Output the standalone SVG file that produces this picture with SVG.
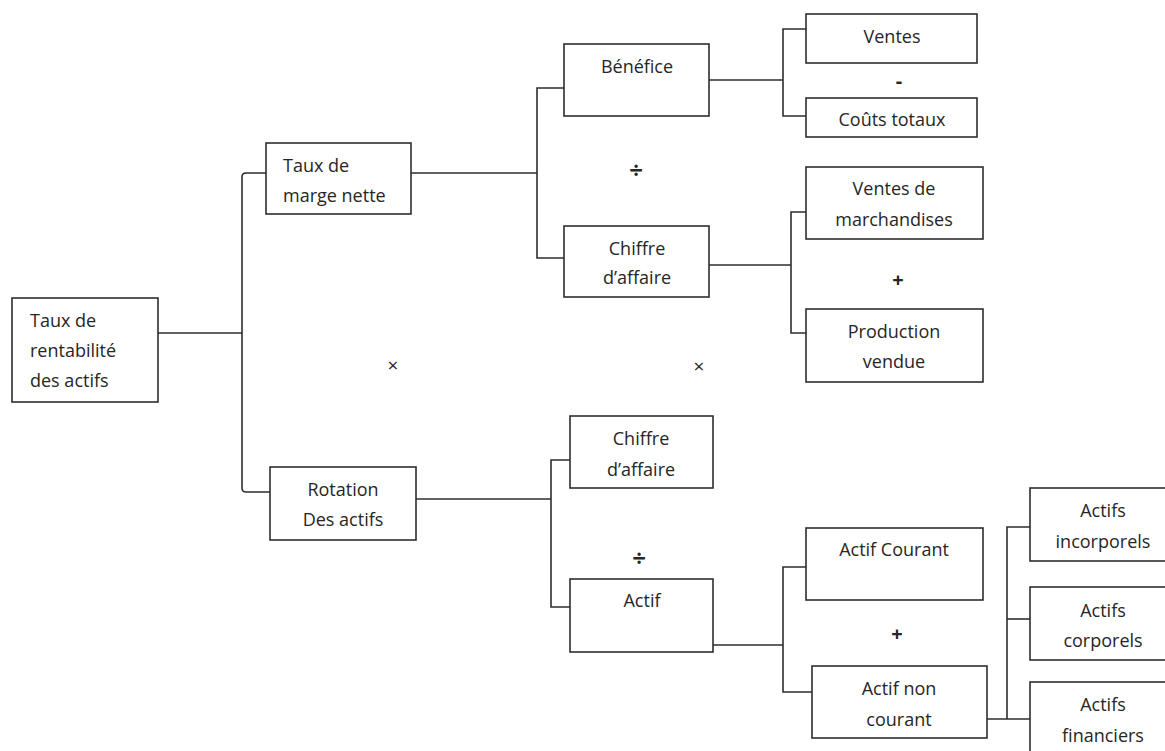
<svg xmlns="http://www.w3.org/2000/svg" width="1165" height="751" viewBox="0 0 1165 751">
<style>
rect.box{fill:#fff;stroke:#2e2e2e;stroke-width:1.6}
text{font-family:"Open Sans","Noto Sans",sans-serif;font-size:18px;fill:#262626}
.c{text-anchor:middle}
.op{text-anchor:middle;font-size:20px;font-weight:bold}
.div{text-anchor:middle;font-size:24px;font-weight:bold}
.mul{text-anchor:middle;font-size:19px;font-weight:normal}
#connectors path{fill:none;stroke:#2e2e2e;stroke-width:1.6}
</style>
<rect width="1165" height="751" fill="#fff"/>
<g id="connectors">
<path d="M158,333 H242"/>
<path d="M266,173 H246 Q242,173 242,177 V488 Q242,492 246,492 H270"/>
<path d="M411,173 H537"/>
<path d="M564,88 H537 V258 H564"/>
<path d="M709,80 H783"/>
<path d="M806,29 H783 V116 H806"/>
<path d="M709,265 H791"/>
<path d="M806,212 H791 V333 H806"/>
<path d="M416,499 H551"/>
<path d="M570,460 H551 V607 H570"/>
<path d="M713,645 H783"/>
<path d="M806,567 H783 V692 H812"/>
<path d="M987,719 H1030"/>
<path d="M1030,527 H1007 V719"/>
<path d="M1007,619 H1030"/>
</g>
<g id="root"><rect class="box" x="12" y="298" width="146" height="104"/>
<text x="30" y="327">Taux de</text><text x="30" y="357">rentabilité</text><text x="30" y="387">des actifs</text></g>
<g id="taux-marge"><rect class="box" x="266" y="143" width="145" height="71"/>
<text x="283" y="172">Taux de</text><text x="283" y="202">marge nette</text></g>
<g id="rotation"><rect class="box" x="270" y="467" width="146" height="73"/>
<text class="c" x="343" y="496">Rotation</text><text class="c" x="343" y="526">Des actifs</text></g>
<g id="benefice"><rect class="box" x="564" y="44" width="145" height="72"/>
<text class="c" x="637" y="73">Bénéfice</text></g>
<g id="ca1"><rect class="box" x="564" y="226" width="145" height="71"/>
<text class="c" x="637" y="255">Chiffre</text><text class="c" x="637" y="284">d’affaire</text></g>
<g id="ca2"><rect class="box" x="570" y="416" width="143" height="72"/>
<text class="c" x="641" y="445">Chiffre</text><text class="c" x="641" y="476">d’affaire</text></g>
<g id="actif"><rect class="box" x="570" y="579" width="143" height="73"/>
<text class="c" x="642" y="607">Actif</text></g>
<g id="ventes"><rect class="box" x="806" y="14" width="171" height="49"/>
<text class="c" x="892" y="43">Ventes</text></g>
<g id="couts"><rect class="box" x="806" y="98" width="171" height="39"/>
<text class="c" x="892" y="126">Coûts totaux</text></g>
<g id="vdm"><rect class="box" x="806" y="167" width="177" height="72"/>
<text class="c" x="894" y="195">Ventes de</text><text class="c" x="894" y="226">marchandises</text></g>
<g id="prod"><rect class="box" x="806" y="309" width="177" height="73"/>
<text class="c" x="894" y="338">Production</text><text class="c" x="894" y="368">vendue</text></g>
<g id="actif-courant"><rect class="box" x="806" y="528" width="177" height="72"/>
<text class="c" x="894" y="556">Actif Courant</text></g>
<g id="actif-non-courant"><rect class="box" x="812" y="666" width="175" height="72"/>
<text class="c" x="899" y="695">Actif non</text><text class="c" x="899" y="726">courant</text></g>
<g id="incorporels"><rect class="box" x="1030" y="488" width="140" height="73"/>
<text class="c" x="1103" y="517">Actifs</text><text class="c" x="1103" y="548">incorporels</text></g>
<g id="corporels"><rect class="box" x="1030" y="587" width="140" height="73"/>
<text class="c" x="1103" y="617">Actifs</text><text class="c" x="1103" y="647">corporels</text></g>
<g id="financiers"><rect class="box" x="1030" y="682" width="140" height="80"/>
<text class="c" x="1103" y="711">Actifs</text><text class="c" x="1103" y="742">financiers</text></g>
<g id="operators">
<text class="div" x="636" y="179">÷</text>
<text class="op" x="899" y="88">-</text>
<text class="op" x="898" y="287">+</text>
<text class="mul" x="393" y="372">×</text>
<text class="mul" x="699" y="373">×</text>
<text class="div" x="639" y="567">÷</text>
<text class="op" x="897" y="641">+</text>
</g>
</svg>
